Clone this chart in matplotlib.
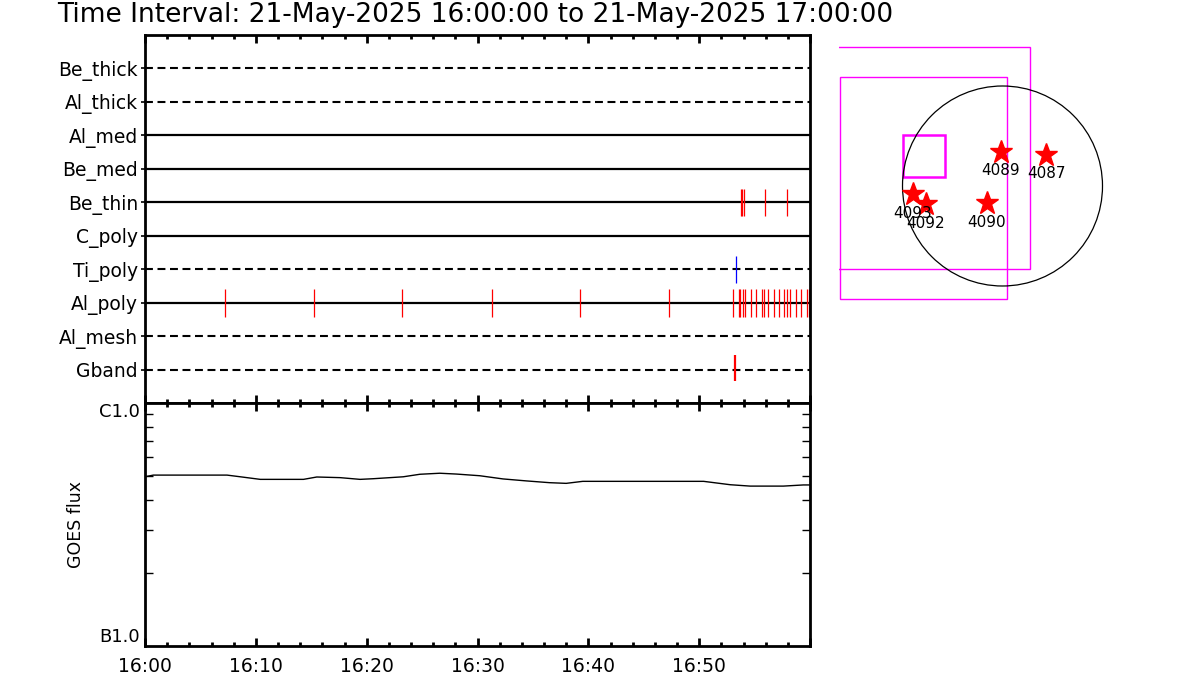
import numpy as np
import matplotlib
matplotlib.use("Agg")
import matplotlib.pyplot as plt
from matplotlib.patches import Rectangle, Circle
from matplotlib.ticker import MultipleLocator, NullFormatter

# === Data
title = "Time Interval: 21-May-2025 16:00:00 to 21-May-2025 17:00:00"

channels = ["Be_thick", "Al_thick", "Al_med", "Be_med", "Be_thin",
            "C_poly", "Ti_poly", "Al_poly", "Al_mesh", "Gband"]
dashed = [True, True, False, False, False, False, True, False, True, True]

# event times, minutes after 16:00
be_thin_events = [53.8, 53.9, 54.05, 55.96, 57.95, 60.0]
ti_poly_events = [53.36]
al_poly_events = [7.24, 15.28, 23.21, 31.28, 39.27, 47.31,
                  53.08, 53.62, 53.71, 53.98, 54.16, 54.70, 55.16, 55.70,
                  55.88, 56.24, 56.78, 57.23, 57.68, 57.95, 58.22, 58.77,
                  59.22, 59.76, 59.94]
gband_events = [53.2]

# GOES flux (units of 1e-7 W/m^2)
goes_min = [0, 0.75, 7.4, 8.6, 10.4, 14.3, 15.5, 17.6, 19.4, 20.6, 23.3,
            24.8, 26.6, 28.1, 30.2, 32.3, 34.4, 36.5, 38.0, 39.5, 50.4,
            52.8, 54.6, 57.6, 59.4, 60]
goes_flux = [4.97, 5.05, 5.05, 4.97, 4.85, 4.85, 4.96, 4.93, 4.85, 4.88,
             4.97, 5.09, 5.14, 5.10, 5.02, 4.87, 4.78, 4.70, 4.67, 4.76,
             4.76, 4.61, 4.55, 4.55, 4.60, 4.60]

time_ticks = [0, 10, 20, 30, 40, 50, 60]
time_labels = ["16:00", "16:10", "16:20", "16:30", "16:40", "16:50", ""]

# Context map (arcsec-like units, circle centre at 0,0)
ar_numbers = ["4089", "4087", "4093", "4092", "4090"]
ar_x = [-1.8, 43.5, -89.8, -76.8, -15.8]
ar_y = [34.3, 31.0, -8.0, -18.3, -17.3]

fig = plt.figure(figsize=(12, 7), dpi=100)
fig.text(57 / 1200, 1 - 15 / 700, title, fontsize=19, va="center", ha="left")

# === Event panel
ax1 = fig.add_axes([145 / 1200, 1 - 403 / 700, 665 / 1200, 368 / 700])
ax1.set_xlim(0, 60)
ax1.set_ylim(11, 0)
for i, (name, dsh) in enumerate(zip(channels, dashed)):
    y = i + 1
    if dsh:
        ax1.plot([0, 60], [y, y], color="black", lw=1.5, dashes=(3.8, 2.2))
    else:
        ax1.plot([0, 60], [y, y], color="black", lw=1.6)

row = {n: i + 1 for i, n in enumerate(channels)}
ax1.vlines(be_thin_events, row["Be_thin"] - 0.4, row["Be_thin"] + 0.4, color="red", lw=0.9)
ax1.vlines(ti_poly_events, row["Ti_poly"] - 0.4, row["Ti_poly"] + 0.4, color="blue", lw=0.9)
ax1.vlines(al_poly_events, row["Al_poly"] - 0.42, row["Al_poly"] + 0.42, color="red", lw=0.9)
ax1.vlines(gband_events, row["Gband"] - 0.42, row["Gband"] + 0.35, color="red", lw=1.6)

ax1.set_yticks(range(1, 11))
ax1.set_yticklabels(channels, fontsize=13.5)
ax1.tick_params(axis="y", direction="out", length=3, width=1.2, pad=2)
ax1.set_xticks(time_ticks)
ax1.xaxis.set_minor_locator(MultipleLocator(2))
ax1.tick_params(axis="x", which="major", direction="in", length=6, width=2,
                top=True, bottom=True, labelbottom=False)
ax1.tick_params(axis="x", which="minor", direction="in", length=3, width=2,
                top=True, bottom=True)
for s in ax1.spines.values():
    s.set_linewidth(2)

# === GOES panel
ax2 = fig.add_axes([145 / 1200, 1 - 646 / 700, 665 / 1200, 243 / 700])
ax2.plot(goes_min, np.array(goes_flux) * 1e-7, color="black", lw=1.0)
ax2.set_yscale("log")
ax2.set_xlim(0, 60)
ax2.set_ylim(1e-7, 1e-6)
ax2.set_yticks([1e-7, 1e-6])
ax2.set_yticklabels(["B1.0", "C1.0"], fontsize=13)
ax2.yaxis.set_minor_formatter(NullFormatter())
ax2.tick_params(axis="y", which="major", length=0, pad=4)
ax2.tick_params(axis="y", which="minor", direction="in", length=6, width=1,
                left=True, right=True)
lbls = ax2.get_yticklabels()
lbls[0].set_va("bottom")
lbls[1].set_va("top")
ax2.set_ylabel("GOES flux", fontsize=12.5, labelpad=10)
ax2.set_xticks(time_ticks)
ax2.set_xticklabels(time_labels, fontsize=13.5)
ax2.xaxis.set_minor_locator(MultipleLocator(2))
ax2.tick_params(axis="x", which="major", direction="in", length=6, width=2,
                top=True, bottom=True, pad=8)
ax2.tick_params(axis="x", which="minor", direction="in", length=3, width=2,
                top=True, bottom=True)
for s in ax2.spines.values():
    s.set_linewidth(2)

# === Context map
ax3 = fig.add_axes([839 / 1200, 1 - 403 / 700, 360 / 1200, 368 / 700])
ax3.set_xlim(-163.5, 196.5)
ax3.set_ylim(-217, 151)
ax3.axis("off")
ax3.add_patch(Rectangle((-200, -83), 227.5, 222, fill=False, ec="magenta", lw=1.0))
ax3.add_patch(Rectangle((-162.2, -113), 167, 222, fill=False, ec="magenta", lw=1.0))
ax3.add_patch(Rectangle((-99.8, 9.3), 42.3, 42, fill=False, ec="magenta", lw=1.8))
ax3.add_patch(Circle((0, 0), 100, fill=False, ec="black", lw=0.9))
ax3.plot(ar_x, ar_y, "*", color="red", ms=17, mec="red")
for n, x, y in zip(ar_numbers, ar_x, ar_y):
    ax3.text(x, y - 19, n, fontsize=11, ha="center", va="center")

fig.savefig("out.png", dpi=100)
